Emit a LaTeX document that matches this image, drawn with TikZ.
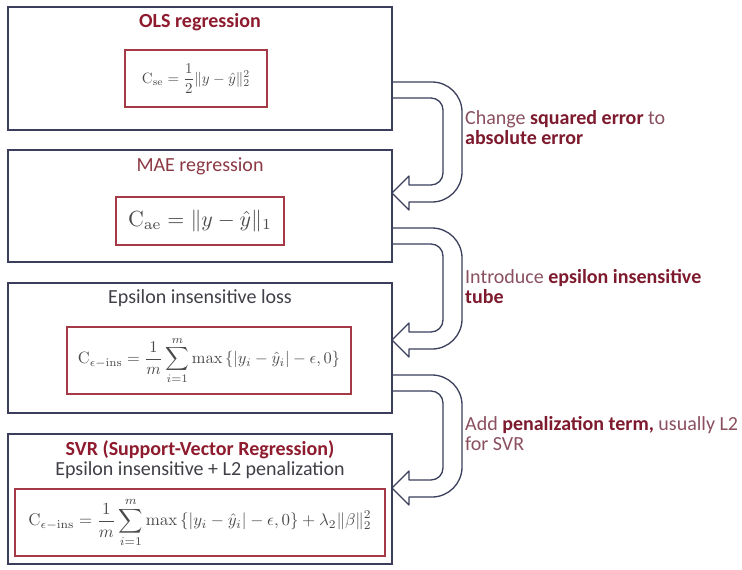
\documentclass[tikz,border=0pt]{standalone}
\usepackage{amsmath}
\usepackage{graphicx}
\usepackage[no-math]{fontspec}
\setmainfont{Carlito}
\definecolor{boxline}{HTML}{3B3F5C}
\definecolor{framered}{HTML}{A33A45}
\definecolor{titlered}{HTML}{8E1B2E}
\definecolor{maered}{HTML}{8B3A45}
\definecolor{graytext}{HTML}{404048}
\definecolor{lblnorm}{HTML}{8A5060}
\definecolor{lblbold}{HTML}{7E1A2E}
\definecolor{formula}{HTML}{4A4A4A}
\newcommand{\hl}[1]{{\bfseries\color{lblbold}#1}}
\newcommand{\bendarrow}[2]{%
\draw[arrowline] (392,-#1) -- (432,-#1) arc[start angle=90,end angle=0,radius=30]
  -- (462,{-#2-9+30}) arc[start angle=0,end angle=-90,radius=30]
  -- (409,{-#2-9}) -- (409,{-#2-17}) -- (392,-#2) -- (409,{-#2+17}) -- (409,{-#2+8})
  -- (431,{-#2+8}) arc[start angle=-90,end angle=0,radius=12]
  -- (443,{-#1-16-12}) arc[start angle=0,end angle=90,radius=12]
  -- (392,{-#1-16});}
\begin{document}
\begin{tikzpicture}[x=1pt,y=1pt,
  outerbox/.style={draw=boxline,line width=1.6pt,rectangle,inner sep=0pt},
  frame/.style={draw=framered,line width=1.4pt,rectangle,inner sep=0pt,text=formula},
  title/.style={font=\fontsize{20}{20}\selectfont,inner sep=0pt,align=center},
  btitle/.style={title,text=titlered,font=\fontsize{20}{20}\selectfont\bfseries},
  lbl/.style={font=\fontsize{20}{20}\selectfont,text=lblnorm,anchor=west,align=left,inner sep=0pt},
  arrowline/.style={draw=boxline,line width=1.3pt,line join=round}]
\fill[white] (0,0) rectangle (742,-570);
\useasboundingbox (0,0) rectangle (742,-570);
% outer boxes
\node[outerbox,minimum width=384pt,minimum height=123pt] (b1) at (200,-68.5) {};
\node[outerbox,minimum width=384pt,minimum height=112pt] (b2) at (200,-206) {};
\node[outerbox,minimum width=384pt,minimum height=130pt] (b3) at (200,-348) {};
\node[outerbox,minimum width=384pt,minimum height=130pt] (b4) at (200,-499) {};
% titles
\node[btitle] (t1) at (200,-22) {OLS regression};
\node[title,text=maered] (t2) at (200,-166) {MAE regression};
\node[title,text=graytext] (t3) at (200,-298) {Epsilon insensitive loss};
\node[btitle] (t4) at (200,-450) {SVR (Support-Vector Regression)};
\node[title,text=graytext] (t4b) at (200,-470) {Epsilon insensitive + L2 penalization};
% formula frames
\node[frame,minimum width=142pt,minimum height=57pt] (f1) at (196,-78.5)
  {\resizebox{108pt}{!}{$\displaystyle \mathrm{C}_{\mathrm{se}} = \frac{1}{2}\|y-\hat{y}\|_2^2$}};
\node[frame,minimum width=168pt,minimum height=48pt] (f2) at (200,-221)
  {\resizebox{144pt}{!}{$\mathrm{C}_{\mathrm{ae}} = \|y-\hat{y}\|_1$}};
\node[frame,minimum width=284pt,minimum height=67pt] (f3) at (209,-360.5)
  {\resizebox{262pt}{!}{$\displaystyle \mathrm{C}_{\epsilon-\mathrm{ins}} = \frac{1}{m}\sum_{i=1}^{m}\max\,\{|y_i-\hat{y}_i|-\epsilon,0\}$}};
\node[frame,minimum width=370pt,minimum height=67pt] (f4) at (200,-522.5)
  {\resizebox{343pt}{!}{$\displaystyle \mathrm{C}_{\epsilon-\mathrm{ins}} = \frac{1}{m}\sum_{i=1}^{m}\max\,\{|y_i-\hat{y}_i|-\epsilon,0\}+\lambda_2\|\beta\|_2^2$}};
% bent arrows
\bendarrow{82}{193}
\bendarrow{228}{340}
\bendarrow{375}{488}
% labels
\node[lbl] (l1) at (465,-127.5) {Change \hl{squared error} to\\\hl{absolute error}};
\node[lbl] (l2) at (465,-287) {Introduce \hl{epsilon insensitive}\\\hl{tube}};
\node[lbl] (l3) at (465,-434) {Add \hl{penalization term,} usually L2\\for SVR};
\end{tikzpicture}
\end{document}
